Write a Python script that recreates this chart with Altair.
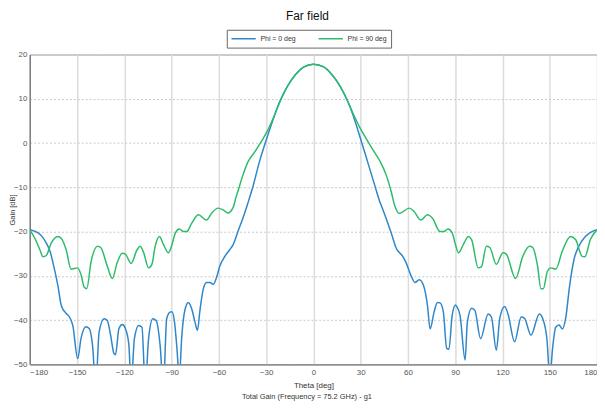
import altair as alt
import pandas as pd

# Phi = 0 deg (blue)
theta0 = [-180, -177, -174.7, -172, -169.5, -167, -165.3, -162.1, -160, -156.9, -154.8, -152.7,
          -149.6, -147.5, -144.4, -142.3, -140.2, -138.1, -136.0, -132.8, -130.8, -128.7, -126.6,
          -125.6, -123.4, -121.3, -119.3, -117.1, -115.7, -113.6, -110.9, -108.8, -106.7, -104.6,
          -101.9, -99.8, -97.3, -95.2, -93.1, -91.0, -89.8, -88.1, -86.6, -85.1, -83.5, -81.4,
          -79.3, -77.2, -75.1, -73.6, -71.9, -69.9, -67.8, -65.7, -63.6, -61.5, -59.4, -56.2,
          -53.1, -51.0, -47.9, -43.7, -41.6, -38.5, -34.3, -30.1, -25.9, -21.7, -16.5, -11.3,
          -6.0, 0, 6.5, 11.7, 17.0, 22.2, 26.4, 30.6, 34.8, 38.9, 42.1, 44.2, 49.4, 52.5, 56.7,
          58.8, 62.0, 64.5, 67.2, 69.9, 72.4, 74.1, 76.6, 78.7, 80.4, 82.5, 84.6, 86.0, 88.1,
          90.2, 91.0, 93.1, 96.3, 97.7, 100.4, 102.5, 106.1, 110.9, 113.0, 116.1, 118.3, 121.4,
          123.5, 127.7, 131.9, 134.0, 138.1, 143.4, 145.5, 148.2, 150.1, 151.8, 153.8, 155.9,
          158.0, 160.1, 162.6, 165.4, 168.5, 172.6, 176.8, 180]
gain0 = [-19.6, -19.9, -20.3, -21.2, -22.6, -24.6, -27.0, -32.3, -36.7, -38.5, -39.3, -41.2,
         -48.7, -44.2, -41.5, -41.9, -45.6, -55, -42.7, -39.7, -40.1, -43.4, -47.5,
         -47.8, -41.9, -41.0, -41.9, -45.6, -55, -44.2, -41.2, -41.6, -55, -44.2,
         -39.7, -40.1, -45.6, -55, -39.7, -38.2, -38.1, -40.5, -46.4, -53, -43.5, -37.5,
         -36.0, -37.5, -40.5, -42.3, -37.5, -33.0, -31.5, -31.5, -31.9, -30.4, -27.8, -25.6,
         -24.1, -23.0, -20.0, -15.9, -13.6, -10.0, -4.3, 0.5, 5.0, 9.1, 12.8, 15.5,
         17.2, 17.8, 17.2, 15.5, 12.8, 9.1, 5.0, 0.2, -4.7, -9.5, -13.2, -15.1, -20.3, -23.7, -25.6,
         -27.0, -30.0, -31.5, -30.9, -32.2, -36.7, -42.0, -38.2, -36.0, -36.1, -38.2, -46.4, -46.6, -38.9,
         -36.6, -36.9, -39.0, -49.0, -40.5, -37.3, -37.8, -44.2, -38.6, -39.3, -46.8, -39.6, -36.9,
         -38.6, -44.9, -39.3, -39.6, -43.4, -38.6, -39.6, -44.2, -53, -46.4, -41.6, -41.1,
         -42.0, -39.6, -32.3, -26.3, -23.3, -21.1, -20.0, -19.6]

# Phi = 90 deg (green)
theta90 = [-180, -176.8, -173.6, -171.6, -169.5, -166.4, -162.1, -160.1, -156.9, -153.8, -149.6,
           -147.5, -145.4, -143.8, -141.2, -137.0, -135.0, -130.8, -127.6, -124.5, -121.3, -119.3,
           -115.7, -111.9, -109.9, -107.7, -104.6, -102.5, -100.4, -97.7, -95.2, -92.0, -89.8,
           -87.6, -85.1, -82.4, -80.4, -77.2, -73.0, -67.8, -64.7, -60.5, -57.3, -54.2, -51.0,
           -49.0, -48.0, -44.8, -41.6, -37.4, -33.3, -29.1, -24.9, -21.7, -16.5, -11.3, -6.0, 0,
           6.5, 11.7, 17.0, 22.2, 25.4, 29.5, 33.7, 37.9, 42.1, 46.3, 49.4, 51.5, 54.6, 60.9,
           64.0, 68.2, 72.4, 75.6, 80.4, 82.9, 85.4, 88.1, 90.2, 92.1, 95.2, 98.4, 100.4, 104.6,
           106.7, 109.8, 112.0, 116.1, 120.3, 122.4, 128.3, 132.9, 137.1, 139.2, 142.3, 144.4,
           145.9, 148.6, 150.7, 153.8, 158.0, 163.2, 166.4, 170.6, 172.3, 175.8, 180]
gain90 = [-19.6, -21.5, -24.1, -25.7, -25.4, -22.6, -21.1, -21.5, -24.1, -28.5, -28.2,
          -29.7, -32.6, -32.9, -27.0, -23.3, -23.6, -27.8, -30.6, -27.0, -24.9, -25.1,
          -27.2, -24.1, -23.3, -24.8, -28.2, -27.4, -23.3, -21.1, -22.9, -24.8, -23.0,
          -20.3, -19.4, -20.0, -20.0, -18.1, -16.2, -17.4, -15.9, -14.7, -15.1, -15.8, -14.6,
          -12.1, -11.0, -7.3, -4.3, -2.1, 0.2, 2.8, 6.1, 8.9, 12.8, 15.5, 17.2, 17.8,
          17.2, 15.5, 12.8, 9.1, 6.5, 3.5, 0.9, -1.6, -4.0, -7.3, -11.0, -14.0, -15.9, -14.7,
          -15.5, -17.4, -16.2, -17.0, -20.0, -20.0, -19.4, -20.3, -23.0, -24.8, -22.9, -21.1, -21.8, -28.2,
          -27.9, -23.3, -23.6, -27.4, -24.8, -25.1, -30.6, -25.6, -23.3, -23.6, -27.8, -32.9,
          -32.9, -28.9, -28.2, -28.5, -24.4, -21.1, -21.8, -25.6, -25.7, -21.8, -19.6]

series_names = ["Phi = 0 deg", "Phi = 90 deg"]
series_colors = ["#2f86c8", "#2dbb6c"]
x_ticks = [-180, -150, -120, -90, -60, -30, 0, 30, 60, 90, 120, 150, 180]
y_ticks = [-50, -40, -30, -20, -10, 0, 10, 20]

df = pd.concat([
    pd.DataFrame({"theta": theta0, "gain": gain0, "series": series_names[0]}),
    pd.DataFrame({"theta": theta90, "gain": gain90, "series": series_names[1]}),
])

FONT = "Liberation Sans"
W, H = 573, 313

lines = alt.Chart(df).mark_line(interpolate="monotone", strokeWidth=1.5, clip=True).encode(
    x=alt.X("theta:Q", scale=alt.Scale(domain=[-180, 180], nice=False, zero=False),
            axis=alt.Axis(values=x_ticks, title="Theta [deg]", grid=True, gridColor="#dcdcdc",
                          gridWidth=1.5, domainColor="#808080", domainWidth=1.5, ticks=False,
                          labelPadding=4, labelFontSize=8, labelColor="#555", labelFont=FONT,
                          titleFont=FONT, titleFontSize=8, titleFontWeight="normal",
                          titleColor="#333", titlePadding=5)),
    y=alt.Y("gain:Q", scale=alt.Scale(domain=[-50, 20], nice=False, zero=False),
            axis=alt.Axis(values=y_ticks, title="Gain [dB]", grid=True, gridColor="#c8c8c8",
                          gridDash=[2, 2], gridWidth=1, domainColor="#808080", domainWidth=1.5,
                          ticks=False, labelPadding=3, labelFontSize=8, labelColor="#555",
                          labelFont=FONT, titleFont=FONT, titleFontSize=7.5,
                          titleFontWeight="normal", titleColor="#333",
                          titleX=-17, titleY=H / 2, titleAngle=270, titleBaseline="middle",
                          titleAlign="center")),
    color=alt.Color("series:N", scale=alt.Scale(domain=series_names, range=series_colors),
                    legend=alt.Legend(title=None, orient="none", direction="horizontal",
                                      legendX=199, legendY=-25, symbolType="stroke",
                                      symbolSize=600, symbolStrokeWidth=1.5, clipHeight=10,
                                      labelFontSize=7, labelFont=FONT, labelColor="#333",
                                      columnPadding=22, padding=4, strokeColor="#666",
                                      fillColor="white", cornerRadius=0)),
    order=alt.Order("theta:Q"),
)

footer = alt.Chart(pd.DataFrame({"t": ["Total Gain (Frequency = 75.2 GHz) - g1"]})).mark_text(
    font=FONT, fontSize=7.5, color="#333", align="center", baseline="middle"
).encode(text="t:N", x=alt.value(280), y=alt.value(H + 33))

chart = alt.layer(lines, footer).properties(
    width=W, height=H,
    title=alt.TitleParams("Far field", font=FONT, fontSize=12, fontWeight="normal",
                          color="#111", anchor="middle", offset=6, dx=-6),
    padding={"left": 22, "top": 45, "right": 0, "bottom": 36},
    autosize=alt.AutoSizeParams(type="none"),
).configure_view(stroke="#999", strokeWidth=1)

chart.save("out.html", embed_options={"renderer": "svg", "actions": False})
